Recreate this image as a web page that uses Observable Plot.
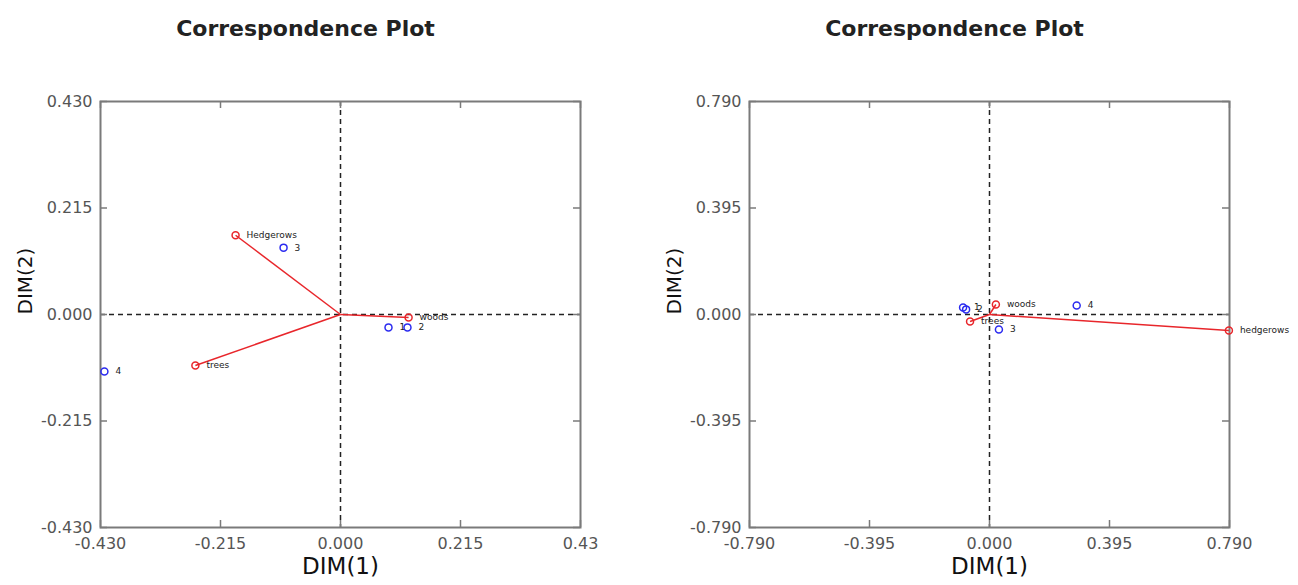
<!DOCTYPE html>
<html><head><meta charset="utf-8">
<script src="https://cdn.jsdelivr.net/npm/d3@7"></script>
<script src="https://cdn.jsdelivr.net/npm/@observablehq/plot@0.6"></script>
<style>
body{margin:0;background:#fff;}
#wrap{display:flex;width:1298px;height:585px;}
</style></head><body><div id="wrap"></div>
<script>
const title = "Correspondence Plot";
const xLabel = "DIM(1)";
const yLabel = "DIM(2)";
const rowNames = ["1", "2", "3", "4"];

// Left panel
const leftLimit = 0.43;
const leftTicks = [-0.43, -0.215, 0, 0.215, 0.43];
const leftXTickLabels = ["-0.430", "-0.215", "0.000", "0.215", "0.43"];
const leftYTickLabels = ["-0.430", "-0.215", "0.000", "0.215", "0.430"];
const leftColNames = ["Hedgerows", "trees", "woods"];
const leftColX = [-0.188, -0.260, 0.122];
const leftColY = [0.160, -0.103, -0.006];
const leftRowX = [0.086, 0.120, -0.102, -0.423];
const leftRowY = [-0.026, -0.026, 0.135, -0.115];

// Right panel
const rightLimit = 0.79;
const rightTicks = [-0.79, -0.395, 0, 0.395, 0.79];
const rightXTickLabels = ["-0.790", "-0.395", "0.000", "0.395", "0.790"];
const rightYTickLabels = ["-0.790", "-0.395", "0.000", "0.395", "0.790"];
const rightColNames = ["woods", "trees", "hedgerows"];
const rightColX = [0.021, -0.064, 0.788];
const rightColY = [0.037, -0.026, -0.059];
const rightRowX = [-0.087, -0.077, 0.031, 0.287];
const rightRowY = [0.026, 0.019, -0.056, 0.033];

const RED = "#e8262b", BLUE = "#2b2bf0", FRAME = "#7a7a7a";

function panel({limit, ticks, xTickLabels, yTickLabels, colNames, colX, colY, rowX, rowY}) {
  const cols = colNames.map((name, i) => ({name, x: colX[i], y: colY[i]}));
  const rows = rowNames.map((name, i) => ({name, x: rowX[i], y: rowY[i]}));
  const W = 649, H = 585, mt = 101, mb = 58, ml = 100, mr = 69;
  const innerH = H - mt - mb, innerW = W - ml - mr;
  const tk = 7;
  return Plot.plot({
    width: W, height: H,
    marginTop: mt, marginBottom: mb, marginLeft: ml, marginRight: mr,
    style: {fontFamily: "DejaVu Sans, sans-serif", background: "#fff", overflow: "visible"},
    x: {domain: [-limit, limit]},
    y: {domain: [-limit, limit]},
    marks: [
      Plot.ruleY([0], {stroke: "#222", strokeDasharray: "5,4", strokeWidth: 1.5}),
      Plot.ruleX([0], {stroke: "#222", strokeDasharray: "5,4", strokeWidth: 1.5}),
      Plot.tickX(ticks, {x: d => d, insetTop: innerH - tk, stroke: FRAME, strokeWidth: 1.5}),
      Plot.tickX(ticks, {x: d => d, insetBottom: innerH - tk, stroke: FRAME, strokeWidth: 1.5}),
      Plot.tickY(ticks, {y: d => d, insetLeft: innerW - tk, stroke: FRAME, strokeWidth: 1.5}),
      Plot.tickY(ticks, {y: d => d, insetRight: innerW - tk, stroke: FRAME, strokeWidth: 1.5}),
      Plot.frame({stroke: FRAME, strokeWidth: 2}),
      Plot.link(cols, {x1: () => 0, y1: () => 0, x2: "x", y2: "y", stroke: RED, strokeWidth: 1.5}),
      Plot.dot(rows, {x: "x", y: "y", r: 3.5, stroke: BLUE, strokeWidth: 1.5}),
      Plot.dot(cols, {x: "x", y: "y", r: 3.5, stroke: RED, strokeWidth: 1.5}),
      Plot.text(rows, {x: "x", y: "y", text: "name", dx: 11, textAnchor: "start", fontSize: 9, fill: "#222"}),
      Plot.text(cols, {x: "x", y: "y", text: "name", dx: 11, textAnchor: "start", fontSize: 9, fill: "#222"}),
      Plot.axisX(ticks, {tickFormat: d => xTickLabels[ticks.indexOf(d)], tickSize: 0, tickPadding: 10, fontSize: 16, fill: "#555", label: null}),
      Plot.axisY(ticks, {tickFormat: d => yTickLabels[ticks.indexOf(d)], tickSize: 0, tickPadding: 8, fontSize: 16, fill: "#555", label: null}),
      Plot.text([title], {frameAnchor: "top", dy: -81, dx: -35, fontSize: 22, fontWeight: 600, fill: "#222"}),
      Plot.text([xLabel], {frameAnchor: "bottom", dy: 46, fontSize: 23, fill: "#111"}),
      Plot.text([yLabel], {frameAnchor: "left", dx: -75, rotate: -90, fontSize: 20, fill: "#111"})
    ]
  });
}

const wrap = document.getElementById("wrap");
wrap.append(panel({limit: leftLimit, ticks: leftTicks, xTickLabels: leftXTickLabels, yTickLabels: leftYTickLabels,
  colNames: leftColNames, colX: leftColX, colY: leftColY, rowX: leftRowX, rowY: leftRowY}));
wrap.append(panel({limit: rightLimit, ticks: rightTicks, xTickLabels: rightXTickLabels, yTickLabels: rightYTickLabels,
  colNames: rightColNames, colX: rightColX, colY: rightColY, rowX: rightRowX, rowY: rightRowY}));
</script></body></html>
